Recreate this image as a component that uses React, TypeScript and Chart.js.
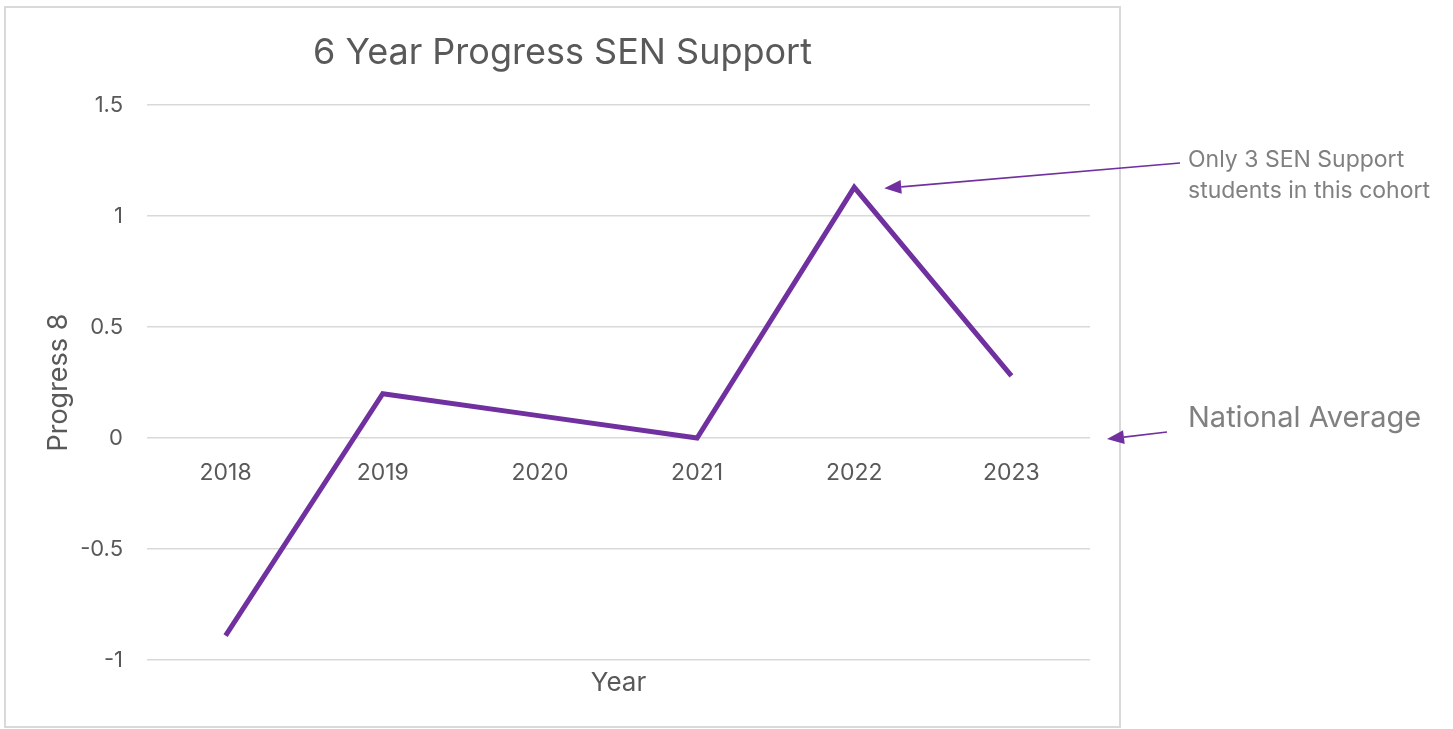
import React, { useEffect, useRef } from "react";
import { Chart, registerables } from "chart.js";

Chart.register(...registerables);

const years = ["2018", "2019", "2020", "2021", "2022", "2023"];
const progress8 = [-0.89, 0.2, 0.1, 0.0, 1.13, 0.28];
const yTicks = [-1, -0.5, 0, 0.5, 1, 1.5];
const chartTitle = "6 Year Progress SEN Support";
const xTitle = "Year";
const yTitle = "Progress 8";
const noteCohort = ["Only 3 SEN Support", "students in this cohort"];
const noteNational = "National Average";

const FONT = "Inter, 'Open Sans', sans-serif";
const PURPLE = "#7030A0";
const TEXT = "#595959";
const NOTE = "#808080";
const GRID = "#d9d9d9";

function arrow(ctx: CanvasRenderingContext2D, x1: number, y1: number, x2: number, y2: number) {
  const ang = Math.atan2(y2 - y1, x2 - x1);
  const len = 17;
  const w = 7;
  const c = Math.cos(ang);
  const s = Math.sin(ang);
  const bx = x2 - len * c;
  const by = y2 - len * s;
  ctx.save();
  ctx.strokeStyle = PURPLE;
  ctx.fillStyle = PURPLE;
  ctx.lineWidth = 1.6;
  ctx.beginPath();
  ctx.moveTo(x1, y1);
  ctx.lineTo(bx, by);
  ctx.stroke();
  ctx.beginPath();
  ctx.moveTo(x2, y2);
  ctx.lineTo(bx - w * s, by + w * c);
  ctx.lineTo(bx + w * s, by - w * c);
  ctx.closePath();
  ctx.fill();
  ctx.restore();
}

export default function App() {
  const ref = useRef<HTMLCanvasElement>(null);

  useEffect(() => {
    if (!ref.current) return;

    const overlay = {
      id: "overlay",
      beforeDraw(chart: any) {
        const ctx = chart.ctx as CanvasRenderingContext2D;
        ctx.save();
        ctx.fillStyle = "#ffffff";
        ctx.fillRect(0, 0, chart.width, chart.height);
        ctx.strokeStyle = GRID;
        ctx.lineWidth = 2;
        ctx.strokeRect(5, 7, 1115, 720);
        ctx.restore();
      },
      afterDraw(chart: any) {
        const ctx = chart.ctx as CanvasRenderingContext2D;
        const xs = chart.scales.x;
        const ys = chart.scales.y;
        const area = chart.chartArea;
        const tip1x = xs.getPixelForValue(4) + 30;
        const tip1y = ys.getPixelForValue(progress8[4]) + 1;
        arrow(ctx, 1180, 163, tip1x, tip1y);
        const tip2x = area.right + 17;
        const tip2y = ys.getPixelForValue(0) + 1;
        arrow(ctx, 1167, 432, tip2x, tip2y);

        ctx.save();
        ctx.fillStyle = NOTE;
        ctx.textAlign = "left";
        ctx.textBaseline = "alphabetic";
        ctx.font = `23px ${FONT}`;
        ctx.fillText(noteCohort[0], 1188, 167);
        ctx.fillText(noteCohort[1], 1188, 198);
        ctx.font = `29px ${FONT}`;
        ctx.fillText(noteNational, 1188, 427);
        ctx.restore();
      },
    };

    const chart = new Chart(ref.current, {
      type: "line",
      data: {
        labels: years,
        datasets: [
          {
            label: yTitle,
            data: progress8,
            borderColor: PURPLE,
            backgroundColor: PURPLE,
            borderWidth: 5,
            pointRadius: 0,
            tension: 0,
            fill: false,
          },
        ],
      },
      options: {
        animation: false,
        responsive: false,
        devicePixelRatio: 1,
        layout: { padding: { left: 5, right: 333, top: 8, bottom: 2 } },
        plugins: {
          legend: { display: false },
          tooltip: { enabled: false },
          title: {
            display: true,
            text: chartTitle,
            color: TEXT,
            font: { family: FONT, size: 36, weight: "normal" },
            padding: { top: 24, bottom: 30 },
          },
        },
        scales: {
          x: {
            type: "category",
            position: { y: 0 } as any,
            offset: true,
            grid: { display: false },
            border: { display: false },
            ticks: {
              color: TEXT,
              font: { family: FONT, size: 23 },
              padding: 13,
              maxRotation: 0,
            },
          },
          xt: {
            type: "category",
            position: "bottom",
            labels: years,
            offset: true,
            grid: { display: false },
            border: { display: false },
            ticks: { display: false },
            title: {
              display: true,
              text: xTitle,
              color: TEXT,
              font: { family: FONT, size: 26 },
              padding: { top: 0, bottom: 28 },
            },
            afterFit(s: any) {
              s.height = 67;
            },
          },
          y: {
            type: "linear",
            min: -1,
            max: 1.5,
            afterBuildTicks(s: any) {
              s.ticks = yTicks.map((v) => ({ value: v }));
            },
            ticks: {
              color: TEXT,
              font: { family: FONT, size: 22 },
              padding: 24,
              callback: (v: any) => String(v),
            },
            grid: { color: GRID, lineWidth: 1.5, drawTicks: false },
            border: { display: false },
            title: {
              display: true,
              text: yTitle,
              color: TEXT,
              font: { family: FONT, size: 27 },
              padding: { top: 38, bottom: 0 },
            },
            afterFit(s: any) {
              s.width = 142;
            },
          },
          yr: {
            type: "linear",
            position: "right",
            display: true,
            grid: { display: false },
            border: { display: false },
            ticks: { display: false },
            afterFit(s: any) {
              s.width = 30;
            },
          },
        },
      },
      plugins: [overlay],
    } as any);

    return () => chart.destroy();
  }, []);

  return (
    <div style={{ position: "fixed", left: 0, top: 0, width: 1453, height: 729, background: "#fff" }}>
      <canvas ref={ref} width={1453} height={729} style={{ display: "block", width: 1453, height: 729 }} />
    </div>
  );
}
